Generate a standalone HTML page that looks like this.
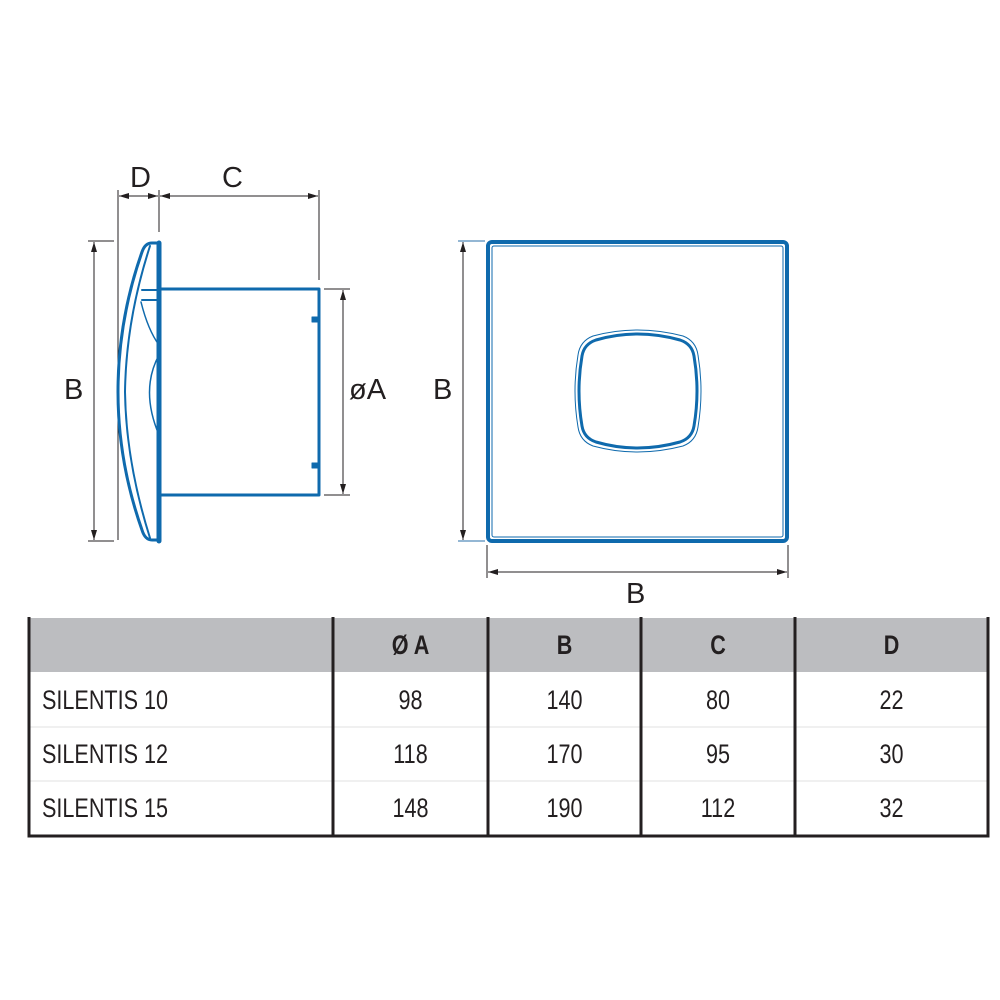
<!DOCTYPE html>
<html><head><meta charset="utf-8"><style>
body{margin:0;background:#fff;width:1000px;height:1000px;overflow:hidden;position:relative;font-family:"Liberation Sans",sans-serif}
.t{position:absolute;font-size:24px;color:#231f20;transform-origin:center;}
.c{position:absolute;text-align:center;font-size:27px;color:#231f20;transform:scaleX(0.8);}
</style></head><body>
<svg width="1000" height="1000" style="position:absolute;left:0;top:0">
<defs>
<marker id="a" markerWidth="10" markerHeight="6" refX="10" refY="3" orient="auto-start-reverse" markerUnits="userSpaceOnUse"><path d="M0,0 L10,3 L0,6 z" fill="#231f20"/></marker>
</defs>
<g stroke="#231f20" stroke-width="1" fill="none">
<line x1="118" y1="190" x2="118" y2="540"/>
<line x1="159" y1="190" x2="159" y2="232"/>
<line x1="319" y1="190" x2="319" y2="280"/>
<line x1="119" y1="196" x2="158" y2="196" marker-start="url(#a)" marker-end="url(#a)"/>
<line x1="160" y1="196" x2="318" y2="196" marker-start="url(#a)" marker-end="url(#a)"/>
<line x1="88" y1="241" x2="114" y2="241"/>
<line x1="88" y1="541" x2="114" y2="541"/>
<line x1="94" y1="242" x2="94" y2="540" marker-start="url(#a)" marker-end="url(#a)"/>
<line x1="324" y1="289" x2="350" y2="289"/>
<line x1="324" y1="495" x2="350" y2="495"/>
<line x1="343" y1="290" x2="343" y2="494" marker-start="url(#a)" marker-end="url(#a)"/>
<line x1="458" y1="241" x2="485" y2="241" stroke="#2a6fa8"/>
<line x1="458" y1="541" x2="485" y2="541" stroke="#2a6fa8"/>
<line x1="463" y1="242" x2="463" y2="540" marker-start="url(#a)" marker-end="url(#a)"/>
<line x1="487" y1="545" x2="487" y2="578"/>
<line x1="788" y1="545" x2="788" y2="578"/>
<line x1="488" y1="572" x2="787" y2="572" marker-start="url(#a)" marker-end="url(#a)"/>
</g>
<g stroke="#0f6aad" fill="none" stroke-linecap="round" stroke-linejoin="round">
<line x1="159" y1="243" x2="159" y2="541" stroke-width="5"/>
<path d="M159,243 L152,243 Q145,243 142,252 Q118,320 118,392 Q118,462 142,530 Q145,540 152,540 L159,540" stroke-width="3"/>
<path d="M150,246 Q126,320 125,392 Q126,462 150,538" stroke-width="2"/>
<path d="M142,290 L159,290 M142,300 L159,300" stroke-width="2"/>
<path d="M141,302 Q148,330 159,345 M159,355 Q140,390 159,435" stroke-width="1.5"/>
<path d="M160,289 L319,289 L319,495 L160,495" stroke-width="3"/>
<rect x="312" y="317" width="6" height="5" fill="#0f6aad" stroke-width="1"/>
<rect x="312" y="463" width="6" height="5" fill="#0f6aad" stroke-width="1"/>
<rect x="488" y="242" width="299" height="299" rx="4" stroke-width="4"/>
<rect x="492" y="246" width="291" height="291" rx="2" stroke-width="1"/>
<path d="M596,340 Q637,328 680,340 Q692,344 694,356 Q700,391 694,426 Q692,438 680,442 Q637,454 596,442 Q584,438 582,426 Q576,391 582,356 Q584,344 596,340 Z" stroke-width="3"/>
<path d="M593,336 Q637,324 683,336 Q696,341 698,355 Q704,391 698,427 Q696,441 683,446 Q637,458 593,446 Q580,441 578,427 Q572,391 578,355 Q580,341 593,336 Z" stroke-width="1"/>
</g>
<rect x="29" y="618" width="959" height="54" fill="#bcbdc0"/>
<g stroke="#e0e0e0" stroke-width="1"><line x1="29" y1="727" x2="988" y2="727"/><line x1="29" y1="781" x2="988" y2="781"/></g>
<g stroke="#231f20" stroke-width="3" fill="none">
<path d="M29,617 L29,836 L988,836 L988,617"/>
<line x1="333" y1="617" x2="333" y2="836"/><line x1="488" y1="617" x2="488" y2="836"/>
<line x1="641" y1="617" x2="641" y2="836"/><line x1="795" y1="617" x2="795" y2="836"/>
</g>
</svg>
<div class="t" style="left:130px;top:162px;font-size:29px">D</div>
<div class="t" style="left:222px;top:162px;font-size:29px">C</div>
<div class="t" style="left:64px;top:374px;font-size:29px">B</div>
<div class="t" style="left:349px;top:374px;font-size:29px">øA</div>
<div class="t" style="left:433px;top:374px;font-size:29px">B</div>
<div class="t" style="left:626px;top:578px;font-size:29px">B</div>
<div class="c" style="left:333px;width:155px;top:630px;font-weight:bold">Ø A</div>
<div class="c" style="left:488px;width:153px;top:630px;font-weight:bold">B</div>
<div class="c" style="left:641px;width:154px;top:630px;font-weight:bold">C</div>
<div class="c" style="left:795px;width:193px;top:630px;font-weight:bold">D</div>
<div class="c" style="left:12px;width:190px;top:685px;text-align:left;transform-origin:left;margin-left:30px">SILENTIS 10</div>
<div class="c" style="left:12px;width:190px;top:739px;text-align:left;transform-origin:left;margin-left:30px">SILENTIS 12</div>
<div class="c" style="left:12px;width:190px;top:793px;text-align:left;transform-origin:left;margin-left:30px">SILENTIS 15</div>
<div class="c" style="left:333px;width:155px;top:685px">98</div>
<div class="c" style="left:333px;width:155px;top:739px">118</div>
<div class="c" style="left:333px;width:155px;top:793px">148</div>
<div class="c" style="left:488px;width:153px;top:685px">140</div>
<div class="c" style="left:488px;width:153px;top:739px">170</div>
<div class="c" style="left:488px;width:153px;top:793px">190</div>
<div class="c" style="left:641px;width:154px;top:685px">80</div>
<div class="c" style="left:641px;width:154px;top:739px">95</div>
<div class="c" style="left:641px;width:154px;top:793px">112</div>
<div class="c" style="left:795px;width:193px;top:685px">22</div>
<div class="c" style="left:795px;width:193px;top:739px">30</div>
<div class="c" style="left:795px;width:193px;top:793px">32</div>
</body></html>
